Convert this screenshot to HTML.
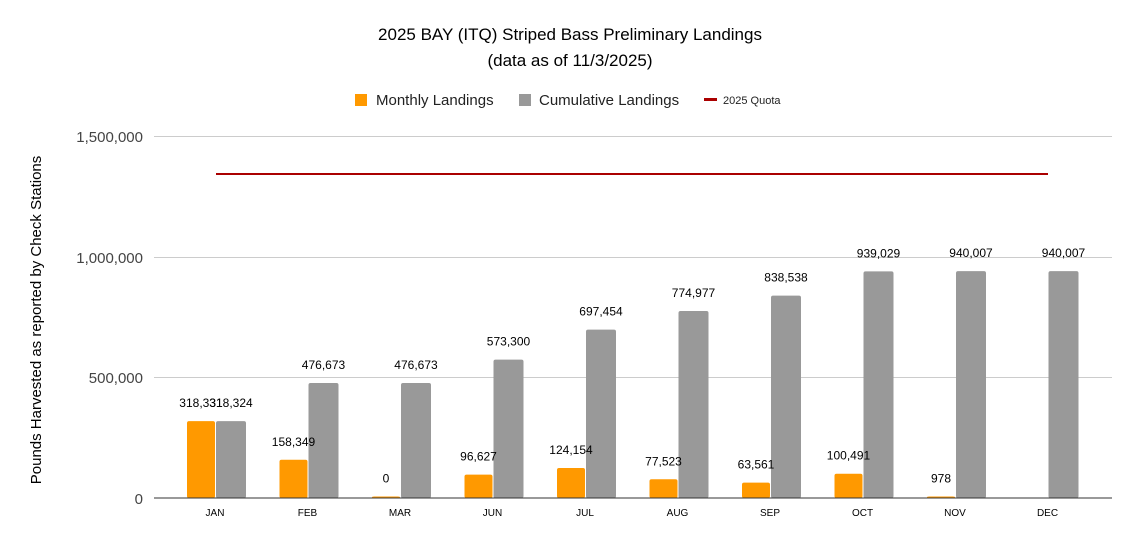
<!DOCTYPE html>
<html><head><meta charset="utf-8"><style>
body{margin:0;background:#fff}
svg{display:block;font-family:"Liberation Sans","DejaVu Sans",sans-serif}
</style></head><body>
<svg width="1139" height="544" viewBox="0 0 1139 544" xmlns="http://www.w3.org/2000/svg">
<text x="570" y="40" text-anchor="middle" font-size="17" fill="#000">2025 BAY (ITQ) Striped Bass Preliminary Landings</text>
<text x="570" y="66" text-anchor="middle" font-size="17" fill="#000">(data as of 11/3/2025)</text>
<rect x="355" y="94" width="12" height="12" fill="#ff9900"/>
<text x="376" y="105" font-size="15" fill="#222">Monthly Landings</text>
<rect x="519" y="94" width="12" height="12" fill="#999"/>
<text x="539" y="105" font-size="15" fill="#222">Cumulative Landings</text>
<rect x="704" y="98" width="13" height="3" fill="#a00"/>
<text x="723" y="104" font-size="11" fill="#222">2025 Quota</text>
<g stroke="#ccc" stroke-width="1">
<line x1="154" y1="136.5" x2="1112" y2="136.5"/>
<line x1="154" y1="257.5" x2="1112" y2="257.5"/>
<line x1="154" y1="377.5" x2="1112" y2="377.5"/>
</g>
<g font-size="15" fill="#444" text-anchor="end">
<text x="143" y="142">1,500,000</text>
<text x="143" y="263">1,000,000</text>
<text x="143" y="383">500,000</text>
<text x="143" y="504">0</text>
</g>
<text transform="translate(41,320) rotate(-90)" text-anchor="middle" font-size="15" fill="#000">Pounds Harvested as reported by Check Stations</text>
<g id="bars"></g>
<g id="labels"></g>
<line x1="154" y1="498" x2="1112" y2="498" stroke="#333" stroke-width="1"/>
<line x1="216" y1="174" x2="1048" y2="174" stroke="#a00" stroke-width="2"/>
</svg>
<script>
var ns="http://www.w3.org/2000/svg",g=document.getElementById("bars"),gl=document.getElementById("labels");
var m=[318331,158349,0,96627,124154,77523,63561,100491,978,null];
var ml=["318,331","158,349","0","96,627","124,154","77,523","63,561","100,491","978",""];
var c=[318324,476673,476673,573300,697454,774977,838538,939029,940007,940007];
var lab=["JAN","FEB","MAR","JUN","JUL","AUG","SEP","OCT","NOV","DEC"];
var k=362/1500000;
function el(p,t,a,txt){var e=document.createElementNS(ns,t);for(var q in a)e.setAttribute(q,a[q]);if(txt!=null)e.textContent=txt;p.appendChild(e);return e;}
function fmt(v){return v.toString().replace(/\B(?=(\d{3})+(?!\d))/g,",");}
for(var i=0;i<10;i++){
 var cx=216+92.5*i;
 if(m[i]!==null){var h=Math.max(m[i]*k,1.5);
  el(g,"rect",{x:cx-29,y:498-h,width:28,height:h,rx:2,fill:"#ff9900"});
  el(gl,"text",{x:cx-15,y:498-h-14,"text-anchor":"middle","font-size":12,fill:"#000"},ml[i]);}
 var h2=c[i]*k;
 el(g,"rect",{x:cx,y:498-h2,width:30,height:h2,rx:2,fill:"#999"});
 el(gl,"text",{x:cx+15,y:498-h2-14,"text-anchor":"middle","font-size":12,fill:"#000"},fmt(c[i]));
 el(gl,"text",{x:cx-1,y:516,"text-anchor":"middle","font-size":10,fill:"#000"},lab[i]);
}
</script>
</body></html>
